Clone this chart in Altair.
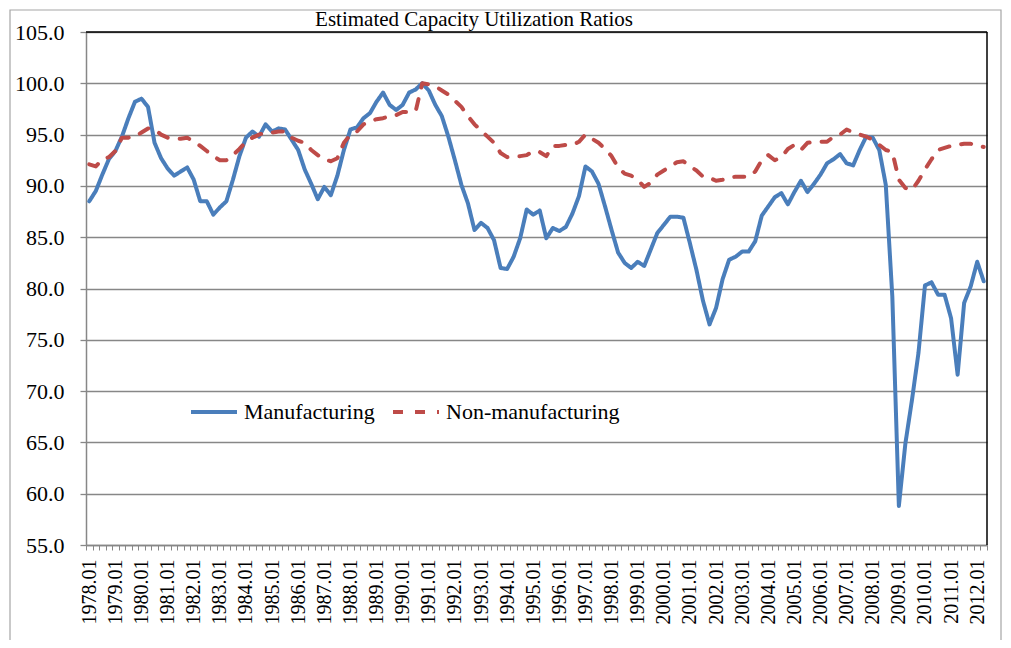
import altair as alt
import pandas as pd

# ---------------- data ----------------
years = list(range(1978, 2013))
quarters = [f"{y}.{q:02d}" for y in years for q in (1, 2, 3, 4)][:138]

manufacturing = [
    88.5, 89.5, 91.1, 92.6, 93.4, 94.8, 96.6, 98.2, 98.5, 97.7,
    94.2, 92.7, 91.7, 91.0, 91.4, 91.8, 90.6, 88.5, 88.5, 87.2,
    87.9, 88.5, 90.6, 92.9, 94.7, 95.3, 94.8, 96.0, 95.3, 95.6,
    95.5, 94.5, 93.5, 91.6, 90.2, 88.7, 89.9, 89.1, 91.0, 93.5,
    95.5, 95.7, 96.6, 97.1, 98.2, 99.1, 97.9, 97.4, 97.9, 99.1,
    99.4, 100.0, 99.3, 97.9, 96.8, 94.8, 92.5, 90.1, 88.3, 85.7,
    86.4, 85.9, 84.7, 82.0, 81.9, 83.1, 84.9, 87.7, 87.2, 87.6,
    84.9, 85.9, 85.6, 86.0, 87.3, 89.0, 91.9, 91.4, 90.2, 88.0,
    85.7, 83.5, 82.5, 82.0, 82.6, 82.2, 83.8, 85.4, 86.2, 87.0,
    87.0, 86.9, 84.4, 81.8, 78.8, 76.5, 78.1, 80.9, 82.8, 83.1,
    83.6, 83.6, 84.6, 87.1, 88.0, 88.9, 89.3, 88.2, 89.4, 90.5,
    89.4, 90.2, 91.1, 92.2, 92.6, 93.1, 92.2, 92.0, 93.5, 94.8,
    94.7, 93.5, 90.1, 79.2, 58.8, 64.9, 69.1, 73.7, 80.3, 80.6,
    79.4, 79.4, 77.1, 71.6, 78.6, 80.2, 82.6, 80.7,
]

non_manufacturing = [
    92.1, 91.9, 92.6, 92.8, 93.4, 94.7, 94.7, 94.8, 95.2, 95.6,
    95.5, 95.0, 94.7, 94.6, 94.6, 94.7, 94.3, 93.9, 93.4, 92.9,
    92.5, 92.5, 93.0, 93.6, 94.3, 94.7, 95.0, 95.2, 95.2, 95.3,
    95.3, 94.7, 94.4, 94.2, 93.5, 93.0, 92.6, 92.4, 92.7, 94.2,
    95.0, 95.3, 96.0, 96.3, 96.5, 96.6, 96.8, 96.9, 97.2, 97.2,
    97.3, 100.0, 99.9, 99.7, 99.3, 98.9, 98.3, 97.7, 96.8, 96.0,
    95.4, 94.8, 94.2, 93.2, 92.8, 92.9, 92.9, 93.0, 93.4, 93.3,
    92.9, 93.9, 93.9, 94.0, 94.0, 94.3, 95.0, 94.6, 94.2, 93.6,
    92.9, 91.8, 91.2, 91.0, 90.6, 89.9, 90.3, 91.1, 91.5, 91.9,
    92.3, 92.4, 91.9, 91.5, 90.9, 90.8, 90.5, 90.6, 90.8, 90.9,
    90.9, 90.9, 91.4, 92.5, 93.0, 92.5, 92.8, 93.6, 94.0, 93.5,
    94.2, 94.3, 94.3, 94.3, 94.8, 95.0, 95.5, 95.2, 95.0, 94.8,
    94.5, 94.0, 93.5, 93.3, 90.6, 89.8, 89.6, 90.5, 91.6, 92.6,
    93.5, 93.7, 93.9, 94.0, 94.1, 94.1, 93.9, 93.8,
]

series_names = ["Manufacturing", "Non-manufacturing"]
series_colors = ["#4A7EBB", "#BE4B48"]
series_dashes = [[1, 0], [10, 12]]
y_ticks = [55.0, 60.0, 65.0, 70.0, 75.0, 80.0, 85.0, 90.0, 95.0, 100.0, 105.0]
title_text = "Estimated Capacity Utilization Ratios"

n = len(quarters)
df = pd.DataFrame({
    "quarter": quarters * 2,
    "value": manufacturing + non_manufacturing,
    "series": [series_names[0]] * n + [series_names[1]] * n,
})

W, H = 901, 513
FONT = "Liberation Serif"
GRAY = "#878787"

legend = alt.Legend(
    title=None, orient="none", direction="horizontal",
    legendX=103, legendY=355, padding=0,
    symbolType="stroke", symbolSize=2116, symbolStrokeWidth=4,
    labelFont=FONT, labelFontSize=22, labelColor="black",
    labelOffset=5, columnPadding=10, labelLimit=400,
)

lines = alt.Chart(df).mark_line(strokeWidth=4, strokeCap="round", strokeJoin="round").encode(
    x=alt.X(
        "quarter:O", sort=quarters,
        scale=alt.Scale(type="band", paddingInner=0, paddingOuter=0),
        axis=alt.Axis(
            title=None, labelAngle=270, labelFont=FONT, labelFontSize=20,
            labelColor="black", labelPadding=9, labelOverlap=False,
            labelExpr="substring(datum.label, 5, 7) == '01' ? datum.label : ''",
            tickBand="extent", tickSize=5, tickColor=GRAY, tickWidth=1,
            domainColor=GRAY, domainWidth=1.5, grid=False,
        ),
    ),
    y=alt.Y(
        "value:Q",
        scale=alt.Scale(domain=[55, 105], nice=False, zero=False),
        axis=alt.Axis(
            title=None, values=y_ticks, format=".1f", grid=True,
            gridColor=GRAY, gridWidth=1.3, domainColor=GRAY, domainWidth=1.5,
            tickColor=GRAY, tickSize=6, tickWidth=1.3,
            labelFont=FONT, labelFontSize=22, labelColor="black", labelPadding=16,
        ),
    ),
    color=alt.Color("series:N", scale=alt.Scale(domain=series_names, range=series_colors), legend=legend),
    strokeDash=alt.StrokeDash("series:N", scale=alt.Scale(domain=series_names, range=series_dashes), legend=legend),
)

one = alt.Data(values=[{}])

frame = alt.Chart(one).mark_rect(fillOpacity=0, stroke="#A6A6A6", strokeWidth=1.2).encode(
    x=alt.value(-76), x2=alt.value(915), y=alt.value(-22), y2=alt.value(700)
)

top_border = alt.Chart(one).mark_rule(color="black", strokeWidth=1.5).encode(
    x=alt.value(0), x2=alt.value(W), y=alt.value(0)
)
right_border = alt.Chart(one).mark_rule(color="black", strokeWidth=1.5).encode(
    x=alt.value(W), y=alt.value(0), y2=alt.value(H)
)

title = alt.Chart(one).mark_text(font=FONT, fontSize=21, align="center", baseline="alphabetic", color="black").encode(
    x=alt.value(388), y=alt.value(-6), text=alt.value(title_text)
)

chart = alt.layer(frame, lines, top_border, right_border, title).properties(
    width=W, height=H,
    autosize=alt.AutoSizeParams(type="none"),
    padding={"left": 78, "top": 24, "right": 16, "bottom": 95},
).configure_view(strokeWidth=0)

chart.save("out.html", embed_options={"renderer": "svg", "actions": False})
